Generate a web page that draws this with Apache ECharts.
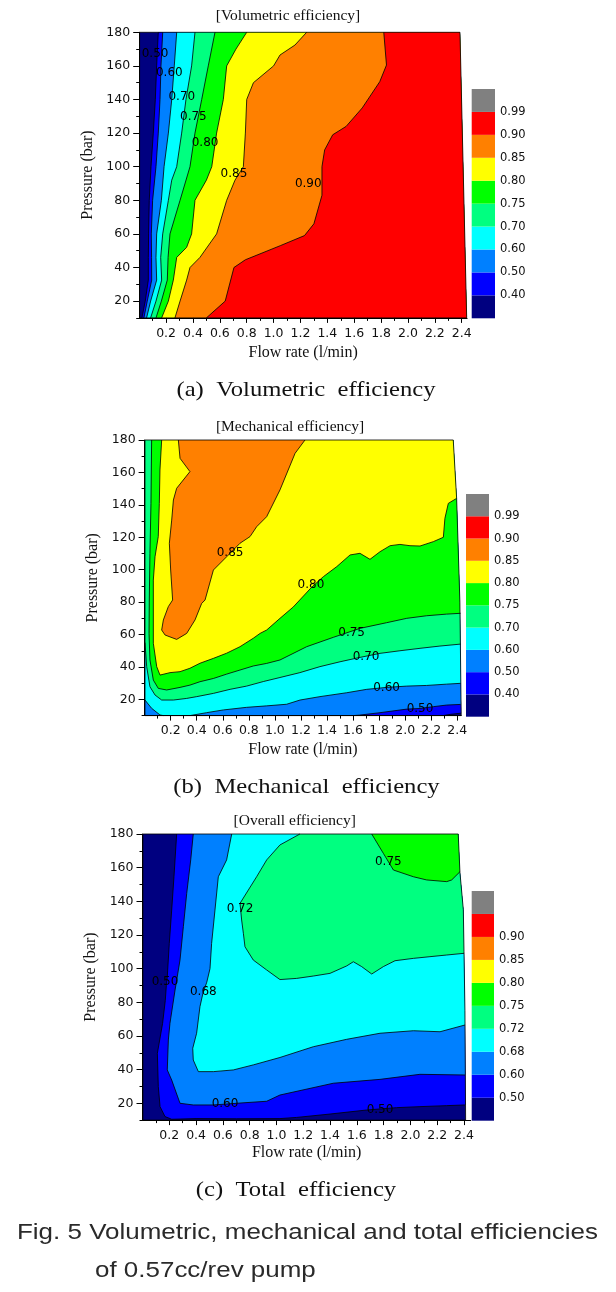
<!DOCTYPE html>
<html><head><meta charset="utf-8">
<script src="https://cdn.jsdelivr.net/npm/echarts@6/dist/echarts.min.js"></script>
<style>html,body{margin:0;padding:0;background:#fff}#c{width:616px;height:1292px}</style>
</head><body><div id="c"></div>
<script>
// ================= DATA =================
const FLOW_TICKS = [0.2,0.4,0.6,0.8,1.0,1.2,1.4,1.6,1.8,2.0,2.2,2.4];
const FLOW_MINOR = [0.1,0.3,0.5,0.7,0.9,1.1,1.3,1.5,1.7,1.9,2.1,2.3];
const P_TICKS = [20,40,60,80,100,120,140,160,180];
const P_MINOR = [10,30,50,70,90,110,130,150,170];

const BAND_COLORS = ['#000080','#0000ff','#0080ff','#00ffff','#00ff80','#00ff00','#ffff00','#ff8000','#ff0000','#808080'];
const VOL_LEVELS  = ['0.40','0.50','0.60','0.70','0.75','0.80','0.85','0.90','0.99'];
const MECH_LEVELS = ['0.40','0.50','0.60','0.70','0.75','0.80','0.85','0.90','0.99'];
const TOT_LEVELS  = ['0.50','0.60','0.68','0.72','0.75','0.80','0.85','0.90',''];

// data domains [flow, pressure] (clockwise)
const VOL_DOMAIN  = [[0.003,10],[0.003,180],[2.387,180],[2.437,10]];
const MECH_DOMAIN = [[0.003,10],[0.003,180],[2.369,180],[2.395,144],[2.42,80],[2.43,10]];
const TOT_DOMAIN  = [[0.003,10],[0.003,180],[2.357,180],[2.37,157],[2.395,135],[2.40,110],[2.407,75],[2.412,10]];

// ---- (a) volumetric efficiency contour lines [flow, pressure]
const VOL_040 = [[0.02,10],[0.045,20],[0.068,32.5],[0.068,46],[0.070,60],[0.075,80],[0.088,100],[0.105,120],[0.120,140],[0.130,160],[0.142,180]];
const VOL_050 = [[0.035,10],[0.06,20],[0.093,32.5],[0.092,46],[0.090,60],[0.10,80],[0.125,100],[0.142,120],[0.155,140],[0.162,160],[0.175,180]];
const VOL_060 = [[0.055,10],[0.085,20],[0.130,32.5],[0.125,46],[0.130,60],[0.165,80],[0.185,100],[0.217,120],[0.242,140],[0.261,160],[0.279,180]];
const VOL_070 = [[0.085,10],[0.125,20],[0.167,32.5],[0.160,46],[0.175,60],[0.217,80],[0.242,92],[0.279,100],[0.316,120],[0.348,140],[0.390,160],[0.415,180]];
const VOL_075 = [[0.125,10],[0.165,20],[0.209,32.5],[0.215,46],[0.229,60],[0.304,80],[0.378,100],[0.415,120],[0.465,140],[0.514,160],[0.564,180]];
const VOL_080 = [[0.167,10],[0.217,20],[0.254,32.5],[0.279,46],[0.353,52],[0.390,60],[0.415,80],[0.50,92],[0.54,100],[0.576,120],[0.626,140],[0.651,160],[0.72,170],[0.800,180]];
const VOL_085 = [[0.266,10],[0.304,20],[0.353,32.5],[0.378,40],[0.452,46],[0.576,60],[0.651,80],[0.713,92],[0.775,100],[0.79,120],[0.80,140],[0.85,150],[1.0,160],[1.048,166.5],[1.159,172.4],[1.246,180]];
const VOL_090 = [[0.50,10],[0.64,20],[0.705,40],[0.79,44.6],[1.05,53],[1.23,59],[1.30,66],[1.36,83],[1.36,100],[1.38,110],[1.44,119],[1.54,124],[1.66,135],[1.79,150.6],[1.84,160.5],[1.82,180]];
const VOL_LABELS = [[0.118,167.4,'0.50'],[0.224,155.6,'0.60'],[0.317,141.7,'0.70'],[0.403,129.8,'0.75'],[0.490,114.3,'0.80'],[0.705,95.7,'0.85'],[1.258,89.9,'0.90']];

// ---- (b) mechanical efficiency contour lines
const MECH_040 = [[2.428,11.5],[2.35,10.8],[2.29,10]];
const MECH_050 = [[2.425,16.9],[2.318,16.5],[2.216,15.5],[2.114,14.4],[2.012,14.0],[1.807,11.8],[1.65,10.3],[1.60,10]];
const MECH_060A = [[2.425,29.9],[2.318,29.4],[2.165,28.6],[2.012,28.2],[1.857,27.4],[1.705,26.2],[1.551,24.1],[1.346,21.7],[1.193,19.6],[1.09,17.0],[0.937,16.0],[0.783,15.1],[0.605,13.5],[0.476,11.8],[0.348,10]];
const MECH_060B = [[0.144,10],[0.118,10.4],[0.054,14.5],[0.003,19.6]];
const MECH_070 = [[2.425,54.1],[2.267,52.9],[2.114,51.5],[1.960,50.0],[1.807,48.4],[1.653,45.9],[1.500,43.2],[1.346,40.2],[1.192,36.5],[1.039,33.5],[0.911,31.0],[0.783,28.2],[0.656,26.2],[0.528,23.7],[0.400,21.7],[0.323,20.6],[0.221,19.6],[0.131,19.6],[0.080,22.7],[0.041,27.8],[0.016,40.2],[0.003,55]];
const MECH_075 = [[2.425,73.1],[2.318,72.6],[2.165,71.6],[2.012,70.0],[1.857,67.3],[1.653,63.8],[1.449,58.3],[1.244,52.5],[1.039,44.3],[0.937,42.2],[0.834,40.6],[0.732,38.1],[0.630,35.6],[0.528,32.9],[0.425,30.9],[0.348,28.8],[0.272,27.4],[0.169,25.8],[0.105,26.8],[0.067,31.9],[0.041,44.3],[0.034,60.7],[0.036,81.3],[0.041,110.1],[0.049,140.9],[0.054,180]];
const MECH_080 = [[2.395,144],[2.331,140.9],[2.305,131.7],[2.293,120.0],[2.216,117.3],[2.114,114.6],[2.037,114.8],[1.960,115.6],[1.884,114.8],[1.807,111.1],[1.730,106.4],[1.653,110.1],[1.577,109.1],[1.475,101.9],[1.372,95.7],[1.28,89],[1.141,77],[1.039,70],[0.937,62.8],[0.886,60.7],[0.834,57.7],[0.732,52.5],[0.630,48.5],[0.528,45.3],[0.425,42.3],[0.348,39.2],[0.272,37.1],[0.195,36.5],[0.118,35.0],[0.093,40.2],[0.067,54.6],[0.067,81.3],[0.067,93.6],[0.080,108.0],[0.105,120.4],[0.113,140.9],[0.118,161.5],[0.131,180]];
const MECH_085 = [[1.231,180],[1.155,171.8],[1.039,149.2],[0.937,132.7],[0.860,126.5],[0.809,120.4],[0.732,116.3],[0.630,108.0],[0.528,99.8],[0.464,81.3],[0.438,79.2],[0.387,69.0],[0.323,60.7],[0.246,57.0],[0.157,59.7],[0.131,62.8],[0.144,69.0],[0.182,77.2],[0.215,81.3],[0.200,99.8],[0.190,116.3],[0.208,130.6],[0.221,143.0],[0.246,150.2],[0.348,160.5],[0.272,168.7],[0.259,180]];
const MECH_LABELS = [[0.656,110.5,'0.85'],[1.277,90.5,'0.80'],[1.589,61.1,'0.75'],[1.70,46,'0.70'],[1.857,27.4,'0.60'],[2.114,14.4,'0.50']];

// ---- (c) overall efficiency contour lines
const TOT_050 = [[2.407,19.0],[2.271,18.6],[2.071,18.0],[1.897,17.4],[1.673,16.0],[1.40,13.6],[1.151,11.6],[1.026,10.9],[0.70,10.8],[0.40,10.9],[0.218,10.5],[0.168,12.1],[0.131,18.0],[0.118,29.9],[0.111,49.7],[0.150,67.5],[0.17,81],[0.178,90],[0.185,95.2],[0.200,115],[0.218,134.8],[0.235,154.6],[0.255,180]];
const TOT_060 = [[2.407,36.8],[2.071,37.2],[1.773,34.2],[1.424,31.9],[1.026,24.9],[0.927,21.2],[0.703,20.0],[0.529,19.0],[0.379,19.0],[0.280,20.0],[0.218,33.8],[0.185,39.8],[0.193,57.6],[0.205,67.5],[0.243,87.3],[0.280,105.1],[0.305,124.9],[0.330,144.7],[0.360,164.6],[0.379,180]];
const TOT_068 = [[2.407,66.5],[2.221,62.5],[2.022,63.1],[1.773,61.6],[1.524,58],[1.275,53.6],[1.026,47.2],[0.827,42.8],[0.678,39.8],[0.529,38.8],[0.417,38.8],[0.379,45.7],[0.375,52.7],[0.404,61.6],[0.429,77.4],[0.45,85],[0.48,92],[0.504,100],[0.516,115],[0.541,134.8],[0.566,154.6],[0.628,164.6],[0.666,180]];
const TOT_072 = [[2.40,109.1],[2.271,108.1],[2.146,107.1],[2.022,106.1],[1.885,104.7],[1.798,101.2],[1.711,96.8],[1.636,101.2],[1.574,104.1],[1.524,101.6],[1.40,97.2],[1.275,95.6],[1.151,94.2],[1.026,93.5],[0.927,99.2],[0.827,105.1],[0.765,113],[0.753,121],[0.740,128.9],[0.728,138.8],[0.790,146.7],[0.852,154.6],[0.927,164.6],[1.026,173.5],[1.175,180]];
const TOT_075 = [[2.37,157.6],[2.308,152.7],[2.271,151.7],[2.121,152.7],[2.022,154.6],[1.873,158.6],[1.798,168.5],[1.711,180]];
const TOT_LABELS = [[0.168,92.3,'0.50'],[0.454,86.3,'0.68'],[0.728,135.8,'0.72'],[1.835,163.7,'0.75'],[0.616,19.4,'0.60'],[1.773,16.0,'0.50']];

// ================= LAYOUT / STYLE =================
const LAYOUT = [
  {left:139.2, top:32.3, w:327.9, h:285.6, xmax:2.44, gapY:31, gapX:27,
   cb:{left:471.7, top:89, w:23.3, h:229.3}, title:{x:288, y:16, t:'[Volumetric efficiency]'},
   cap:{x:306, y:390, t:'(a)  Volumetric  efficiency'}},
  {left:144.6, top:440, w:316.6, h:275.6, xmax:2.43, gapY:32, gapX:26,
   cb:{left:466, top:494, w:23, h:222.7}, title:{x:290, y:427, t:'[Mechanical efficiency]'},
   cap:{x:306.5, y:787, t:'(b)  Mechanical  efficiency'}},
  {left:142.5, top:834, w:328.2, h:286.1, xmax:2.45, gapY:33, gapX:25,
   cb:{left:471.7, top:891, w:22.3, h:229.7}, title:{x:294.7, y:821, t:'[Overall efficiency]'},
   cap:{x:296, y:1190, t:'(c)  Total  efficiency'}}
];

// ================= BUILD =================
function sc(p){ return [p[0]*130, p[1]*1.65]; }
function boundaryParam(pt, dom){
  const n = dom.length; let best = Infinity, bt = 0, bp = pt;
  const P = sc(pt);
  for (let i=0;i<n;i++){
    const a = dom[i], b = dom[(i+1)%n], A = sc(a), B = sc(b);
    const dx = B[0]-A[0], dy = B[1]-A[1], L2 = dx*dx+dy*dy;
    let t = L2 ? ((P[0]-A[0])*dx + (P[1]-A[1])*dy)/L2 : 0;
    t = Math.max(0, Math.min(1, t));
    const qx = A[0]+t*dx-P[0], qy = A[1]+t*dy-P[1], d = qx*qx+qy*qy;
    if (d < best){ best = d; bt = i+t; bp = [a[0]+t*(b[0]-a[0]), a[1]+t*(b[1]-a[1])]; }
  }
  return {t:bt, p:bp};
}
function buildRegion(segs, dom){
  const n = dom.length, pts = [];
  const snapped = segs.map(s => { const c = s.slice(); c[0] = boundaryParam(s[0],dom).p; c[c.length-1] = boundaryParam(s[s.length-1],dom).p; return c; });
  for (let i=0;i<snapped.length;i++){
    const seg = snapped[i], nxt = snapped[(i+1)%snapped.length];
    pts.push(...seg);
    const ta = boundaryParam(seg[seg.length-1], dom).t;
    let tb = boundaryParam(nxt[0], dom).t;
    if (tb <= ta) tb += n;
    for (let k=Math.floor(ta)+1; k<tb; k++) pts.push(dom[k%n]);
  }
  return pts;
}

const PANELS = [
  {domain:VOL_DOMAIN, levels:VOL_LEVELS, labels:VOL_LABELS,
   regions:[{band:1,segs:[VOL_040]},{band:2,segs:[VOL_050]},{band:3,segs:[VOL_060]},{band:4,segs:[VOL_070]},
            {band:5,segs:[VOL_075]},{band:6,segs:[VOL_080]},{band:7,segs:[VOL_085]},{band:8,segs:[VOL_090]}]},
  {domain:MECH_DOMAIN, levels:MECH_LEVELS, labels:MECH_LABELS,
   regions:[{band:1,segs:[MECH_040]},{band:2,segs:[MECH_050]},{band:3,segs:[MECH_060A,MECH_060B]},{band:4,segs:[MECH_070]},
            {band:5,segs:[MECH_075]},{band:6,segs:[MECH_080]},{band:7,segs:[MECH_085]}]},
  {domain:TOT_DOMAIN, levels:TOT_LEVELS, labels:TOT_LABELS,
   regions:[{band:1,segs:[TOT_050]},{band:2,segs:[TOT_060]},{band:3,segs:[TOT_068]},{band:4,segs:[TOT_072]},{band:5,segs:[TOT_075]}]}
];

const grids = [], xAxes = [], yAxes = [], series = [], graphics = [];
const AX = '#000', TXT = '#111';
const tickFont = {fontFamily:'DejaVu Sans', fontSize:12.5, color:TXT};

PANELS.forEach((pn, i) => {
  const L = LAYOUT[i];
  grids.push({left:L.left, top:L.top, width:L.w, height:L.h, containLabel:false});
  const gi = grids.length-1;
  xAxes.push({type:'value', gridIndex:gi, min:0, max:L.xmax, position:'bottom', z:10,
    axisLine:{show:true, onZero:false, lineStyle:{color:AX, width:1}}, splitLine:{show:false},
    axisTick:{show:true, length:5, customValues:FLOW_TICKS, lineStyle:{color:AX}},
    axisLabel:{show:true, customValues:FLOW_TICKS, formatter:v=>v.toFixed(1), margin:9, ...tickFont},
    name:'Flow rate (l/min)', nameLocation:'middle', nameGap:L.gapX,
    nameTextStyle:{fontFamily:'Liberation Serif', fontSize:16, color:TXT}});
  const xi = xAxes.length-1;
  xAxes.push({type:'value', gridIndex:gi, min:0, max:L.xmax, position:'bottom', z:10,
    axisLine:{show:false, onZero:false}, splitLine:{show:false},
    axisTick:{show:true, length:3, customValues:FLOW_MINOR, lineStyle:{color:AX}}, axisLabel:{show:false}});
  yAxes.push({type:'value', gridIndex:gi, min:10, max:180, position:'left', z:10,
    axisLine:{show:true, onZero:false, lineStyle:{color:AX, width:1}}, splitLine:{show:false},
    axisTick:{show:true, length:6, customValues:P_TICKS, lineStyle:{color:AX}},
    axisLabel:{show:true, customValues:P_TICKS, margin:9, ...tickFont},
    name:'Pressure (bar)', nameLocation:'middle', nameGap:L.gapY, nameRotate:90,
    nameTextStyle:{fontFamily:'Liberation Serif', fontSize:16, color:TXT}});
  const yi = yAxes.length-1;
  yAxes.push({type:'value', gridIndex:gi, min:10, max:180, position:'left', z:10,
    axisLine:{show:false, onZero:false}, splitLine:{show:false},
    axisTick:{show:true, length:3, customValues:P_MINOR, lineStyle:{color:AX}}, axisLabel:{show:false}});

  const fills = [{color:BAND_COLORS[0], poly:pn.domain}].concat(
    pn.regions.map(r => ({color:BAND_COLORS[r.band], poly:buildRegion(r.segs, pn.domain)})));
  series.push({type:'custom', coordinateSystem:'cartesian2d', xAxisIndex:xi, yAxisIndex:yi, z:2, silent:true, clip:false,
    data:fills.map((f,k)=>[1,100,k]),
    renderItem:(params, api)=>{
      const f = fills[params.dataIndex];
      return {type:'polygon', shape:{points:f.poly.map(p=>api.coord(p))}, style:{fill:f.color, stroke:'none'}};
    }});
  const lines = [];
  pn.regions.forEach(r => r.segs.forEach(s => lines.push({pts:s, closed:false})));
  lines.push({pts:pn.domain, closed:true});
  series.push({type:'custom', coordinateSystem:'cartesian2d', xAxisIndex:xi, yAxisIndex:yi, z:3, silent:true, clip:false,
    data:lines.map((l,k)=>[1,100,k]),
    renderItem:(params, api)=>{
      const l = lines[params.dataIndex];
      const pts = l.pts.map(p=>api.coord(p));
      return {type:l.closed?'polygon':'polyline', shape:{points:pts}, style:{fill:'none', stroke:'#000', lineWidth:0.8}};
    }});
  series.push({type:'custom', coordinateSystem:'cartesian2d', xAxisIndex:xi, yAxisIndex:yi, z:4, silent:true, clip:false,
    data:pn.labels.map(l=>[l[0], l[1]]),
    renderItem:(params, api)=>{
      const c = api.coord([api.value(0), api.value(1)]);
      return {type:'text', x:c[0], y:c[1], style:{text:pn.labels[params.dataIndex][2], fill:'#000',
        font:'12px "DejaVu Sans"', align:'center', verticalAlign:'middle'}};
    }});

  grids.push({left:L.cb.left, top:L.cb.top, width:L.cb.w, height:L.cb.h, containLabel:false});
  const cg = grids.length-1;
  xAxes.push({type:'value', gridIndex:cg, min:0, max:1, show:false});
  const cxi = xAxes.length-1;
  yAxes.push({type:'value', gridIndex:cg, min:0, max:10, position:'right',
    axisLine:{show:false}, axisTick:{show:false}, splitLine:{show:false},
    axisLabel:{show:true, customValues:[1,2,3,4,5,6,7,8,9], formatter:v=>pn.levels[Math.round(v)-1],
      margin:5, fontFamily:'DejaVu Sans', fontSize:11.5, color:TXT}});
  const cyi = yAxes.length-1;
  series.push({type:'custom', coordinateSystem:'cartesian2d', xAxisIndex:cxi, yAxisIndex:cyi, z:2, silent:true,
    data:BAND_COLORS.map((c,k)=>[0.5,k+0.5,k]),
    renderItem:(params, api)=>{
      const k = params.dataIndex;
      const a = api.coord([0,k+1]), b = api.coord([1,k]);
      return {type:'rect', shape:{x:a[0], y:a[1], width:b[0]-a[0], height:b[1]-a[1]}, style:{fill:BAND_COLORS[k], stroke:'none'}};
    }});

  graphics.push({type:'text', x:L.title.x, y:L.title.y, style:{text:L.title.t, fill:TXT,
    font:'15.5px "Liberation Serif"', align:'center', verticalAlign:'middle'}});
  graphics.push({type:'text', x:L.cap.x, y:L.cap.y, scaleX:1.12, style:{text:L.cap.t, fill:'#111',
    font:'22px "Liberation Serif"', align:'center', verticalAlign:'middle'}});
});

graphics.push({type:'text', x:17, y:1233, scaleX:1.18, style:{text:'Fig. 5 Volumetric, mechanical and total efficiencies',
  fill:'#2a2a2a', font:'22px "Liberation Sans"', align:'left', verticalAlign:'middle'}});
graphics.push({type:'text', x:95, y:1271, scaleX:1.18, style:{text:'of 0.57cc/rev pump',
  fill:'#2a2a2a', font:'22px "Liberation Sans"', align:'left', verticalAlign:'middle'}});

const chart = echarts.init(document.getElementById('c'), null, {renderer:'canvas', width:616, height:1292});
chart.setOption({animation:false, backgroundColor:'#fff', grid:grids, xAxis:xAxes, yAxis:yAxes, series, graphic:graphics});
</script></body></html>
